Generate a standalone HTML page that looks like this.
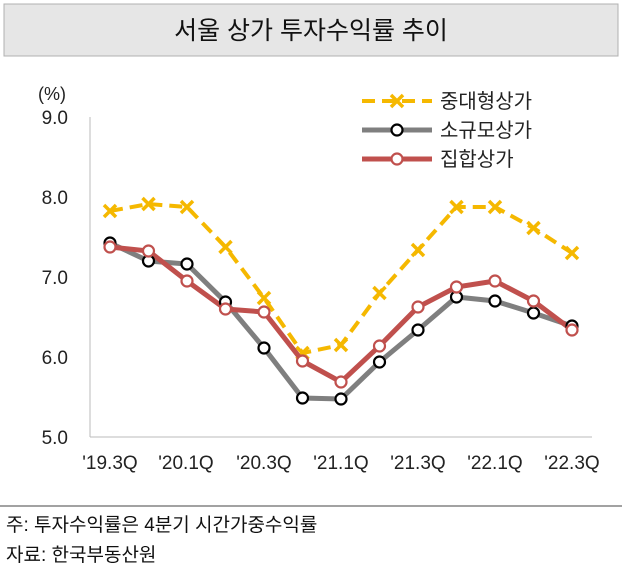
<!DOCTYPE html>
<html><head><meta charset="utf-8"><style>
body{margin:0;background:#fff;width:622px;height:572px;overflow:hidden;font-family:"Liberation Sans","Noto Sans CJK KR",sans-serif;}
</style></head><body>
<svg width="622" height="572" xmlns="http://www.w3.org/2000/svg" font-family="Liberation Sans, Noto Sans CJK KR, sans-serif">
<rect x="4" y="4" width="614" height="52" fill="#e6e6e6" stroke="#b0b0b0"/>
<text x="311" y="39" text-anchor="middle" font-size="25" fill="#111">서울 상가 투자수익률 추이</text>
<g font-size="19" fill="#222" text-anchor="end">
<text x="68" y="124">9.0</text><text x="68" y="204">8.0</text><text x="68" y="284">7.0</text><text x="68" y="364">6.0</text><text x="68" y="444">5.0</text>
</g>
<text x="38" y="100" font-size="18" fill="#222">(%)</text>
<line x1="90" y1="117" x2="90" y2="437" stroke="#bbb"/>
<line x1="90" y1="437" x2="592" y2="437" stroke="#bbb"/>
<g font-size="19" fill="#222" text-anchor="middle">
<text x="110" y="469">'19.3Q</text><text x="186" y="469">'20.1Q</text><text x="264" y="469">'20.3Q</text><text x="341" y="469">'21.1Q</text><text x="418" y="469">'21.3Q</text><text x="495" y="469">'22.1Q</text><text x="572" y="469">'22.3Q</text>
</g>
<polyline fill="none" stroke="#f5b800" stroke-width="4" stroke-dasharray="13,7" points="110,211 148.5,204 187,207 225.5,247 264,298 302.5,353 341,345 379.5,293 418,250 456.5,207 495,207 533.5,228 572,253"/>
<g stroke="#f5b800" stroke-width="3.5">
<path d="M104,205l12,12M116,205l-12,12M142.5,198l12,12M154.5,198l-12,12M181,201l12,12M193,201l-12,12M219.5,241l12,12M231.5,241l-12,12M258,292l12,12M270,292l-12,12M296.5,347l12,12M308.5,347l-12,12M335,339l12,12M347,339l-12,12M373.5,287l12,12M385.5,287l-12,12M412,244l12,12M424,244l-12,12M450.5,201l12,12M462.5,201l-12,12M489,201l12,12M501,201l-12,12M527.5,222l12,12M539.5,222l-12,12M566,247l12,12M578,247l-12,12"/>
</g>
<polyline fill="none" stroke="#7f7f7f" stroke-width="5" points="110,243 148.5,261 187,264 225.5,302 264,348 302.5,398 341,399 379.5,362 418,330 456.5,297 495,301 533.5,313 572,326"/>
<polyline fill="none" stroke="#c0504d" stroke-width="5" points="110,247 148.5,251 187,281 225.5,309 264,312 302.5,361 341,382 379.5,346 418,307 456.5,287 495,281 533.5,301 572,330"/>
<g fill="#fff" stroke="#000" stroke-width="2.2">
<circle cx="110" cy="243" r="5.5"/><circle cx="148.5" cy="261" r="5.5"/><circle cx="187" cy="264" r="5.5"/><circle cx="225.5" cy="302" r="5.5"/><circle cx="264" cy="348" r="5.5"/><circle cx="302.5" cy="398" r="5.5"/><circle cx="341" cy="399" r="5.5"/><circle cx="379.5" cy="362" r="5.5"/><circle cx="418" cy="330" r="5.5"/><circle cx="456.5" cy="297" r="5.5"/><circle cx="495" cy="301" r="5.5"/><circle cx="533.5" cy="313" r="5.5"/><circle cx="572" cy="326" r="5.5"/>
</g>
<g fill="#fff" stroke="#c0504d" stroke-width="2.2">
<circle cx="110" cy="247" r="5.5"/><circle cx="148.5" cy="251" r="5.5"/><circle cx="187" cy="281" r="5.5"/><circle cx="225.5" cy="309" r="5.5"/><circle cx="264" cy="312" r="5.5"/><circle cx="302.5" cy="361" r="5.5"/><circle cx="341" cy="382" r="5.5"/><circle cx="379.5" cy="346" r="5.5"/><circle cx="418" cy="307" r="5.5"/><circle cx="456.5" cy="287" r="5.5"/><circle cx="495" cy="281" r="5.5"/><circle cx="533.5" cy="301" r="5.5"/><circle cx="572" cy="330" r="5.5"/>
</g>
<line x1="362" y1="101" x2="432" y2="101" stroke="#f5b800" stroke-width="4" stroke-dasharray="13,7"/>
<path d="M391,95l12,12M403,95l-12,12" stroke="#f5b800" stroke-width="3.5"/>
<line x1="362" y1="130" x2="432" y2="130" stroke="#7f7f7f" stroke-width="5"/>
<circle cx="397" cy="130" r="5.5" fill="#fff" stroke="#000" stroke-width="2.2"/>
<line x1="362" y1="159" x2="432" y2="159" stroke="#c0504d" stroke-width="5"/>
<circle cx="397" cy="159" r="5.5" fill="#fff" stroke="#c0504d" stroke-width="2.2"/>
<g font-size="20" fill="#222">
<text x="440" y="108">중대형상가</text><text x="440" y="137">소규모상가</text><text x="440" y="166">집합상가</text>
</g>
<line x1="0" y1="506" x2="622" y2="506" stroke="#444"/>
<g font-size="19" fill="#111">
<text x="6" y="531">주: 투자수익률은 4분기 시간가중수익률</text>
<text x="6" y="561">자료: 한국부동산원</text>
</g>
</svg>
</body></html>
